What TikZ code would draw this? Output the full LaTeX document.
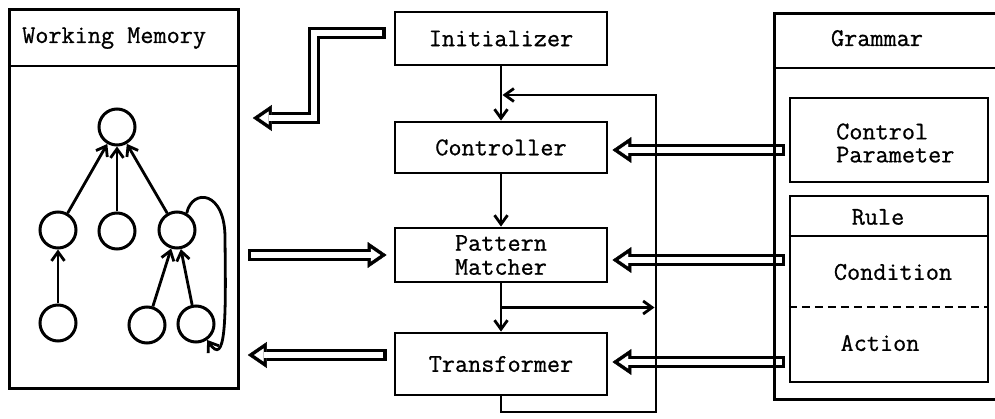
\documentclass[tikz,border=0pt]{standalone}
\usepackage{fontspec}
\newfontfamily\typewriter[FakeBold=0.8]{Latin Modern Mono}
\usetikzlibrary{arrows.meta,calc}
\pgfdeclarelayer{under}
\pgfsetlayers{under,main}

\tikzset{
  txt/.style={font=\typewriter\fontsize{25.5}{24}\selectfont, inner sep=0pt},
  box/.style={draw, line width=2.8pt, minimum width=212pt, inner sep=0pt,
              font=\typewriter\fontsize{25.5}{24}\selectfont},
  frame/.style={draw, line width=2.8pt, inner sep=0pt},
  rule line/.style={line width=2.5pt},
  wmnode/.style={circle, draw, line width=3pt, minimum size=36pt, inner sep=0pt},
  flow/.style={line width=2.8pt, -{Straight Barb[length=9pt,width=13pt]}},
  hollow outer/.style={line width=12pt,
     -{Triangle[length=19pt,width=26pt,line width=0.4pt]}},
  hollow inner/.style={white, line width=5.6pt, shorten <=3.2pt, shorten >=6.3pt,
     -{Triangle[length=9.5pt,width=13pt,line width=0.4pt]}},
}
% outlined (hollow) arrow: a wide black stroke with a narrower white one on top
\newcommand\hollowarrow[1]{\draw[hollow outer] #1; \draw[hollow inner] #1;}

\begin{document}
\begin{tikzpicture}[x=1pt,y=-1pt]
\useasboundingbox (0,0) rectangle (995,419);

% ---- Working memory ----
\node[frame, minimum width=229pt, minimum height=379pt, anchor=north west] (wm) at (8,8) {};
\draw[rule line] ($(wm.north west)+(0,58)$) -- ($(wm.north east)+(0,58)$);
\node[txt, anchor=base west] (wmtitle) at (22,43) {Working Memory};

\node[wmnode] (t)  at (117,127) {};
\node[wmnode] (m1) at (58,230) {};
\node[wmnode] (m2) at (117,231) {};
\node[wmnode] (m3) at (177,230) {};
\node[wmnode] (b1) at (58,323) {};
\node[wmnode] (b2) at (147,325) {};
\node[wmnode] (b3) at (196,324) {};

\draw[flow] (m1) -- (t);
\draw[flow] (m2) -- (t);
\draw[flow] (m3) -- (t);
\draw[flow] (b1) -- (m1);
\draw[flow] (b2) -- (m3);
\draw[flow] (b3) -- (m3);
\draw[flow] (m3.60) .. controls (192,188) and (226,190) .. (225,240)
            .. controls (226,320) and (226,368) .. (b3.-55);

% ---- Control modules ----
\node[box, minimum height=53pt] (init) at (501,38.5) {Initializer};
\node[box, minimum height=51pt] (ctl)  at (501,147.5) {Controller};
\node[box, minimum height=54pt, align=center] (pm) at (501,255) {Pattern\\Matcher};
\node[box, minimum height=62pt] (tr)   at (501,364) {Transformer};

% ---- Grammar ----
\node[frame, minimum width=240pt, minimum height=386pt, anchor=north west] (gram) at (773,12) {};
\draw[rule line] ($(gram.north west)+(0,56)$) -- ($(gram.north east)+(0,56)$);
\node[txt, anchor=base] (gtitle) at (877,46) {Grammar};

\node[frame, line width=2.5pt, minimum width=198pt, minimum height=84pt] (cp) at (889,140) {};
\node[txt, align=left, anchor=west, font=\typewriter\fontsize{25.5}{23}\selectfont]
     (cptext) at (836,143) {Control\\Parameter};

\node[frame, line width=2.5pt, minimum width=198pt, minimum height=186pt] (rule) at (889,289) {};
\draw[line width=2.2pt] ($(rule.north west)+(0,41)$) -- ($(rule.north east)+(0,41)$);
\draw[line width=2pt, dash pattern=on 8pt off 5pt]
     ($(rule.north west)+(0,112)$) -- ($(rule.north east)+(0,112)$);
\node[txt] (rulet) at (878,217) {Rule};
\node[txt] (cond)  at (893,272) {Condition};
\node[txt] (act)   at (880,343) {Action};

% ---- Data paths (hollow arrows) ----
\begin{pgfonlayer}{under}
\hollowarrow{($(init.west)+(-8,-5.5)$) -- (314,33) -- (314,118) -- ($(wm.east |- 0,118)+(13,0)$)}
\hollowarrow{($(wm.east |- pm.west)+(8,0)$) -- ($(pm.west)+(-7,0)$)}
\hollowarrow{($(tr.west)+(-7,-9)$) -- ($(wm.east |- 0,355)+(8,0)$)}
\hollowarrow{($(gram.west |- 0,150)+(12,0)$) -- ($(ctl.east |- 0,150)+(4,0)$)}
\hollowarrow{($(gram.west |- 0,260)+(12,0)$) -- ($(pm.east |- 0,260)+(4,0)$)}
\hollowarrow{($(gram.west |- 0,362)+(12,0)$) -- ($(tr.east |- 0,362)+(4,0)$)}
\end{pgfonlayer}

% ---- Control flow ----
\coordinate (fbtop) at (656,95);
\coordinate (fbbot) at (656,412);
\coordinate (br) at ($(pm.south)!0.5!(tr.north)$);
\draw[flow] (init) -- (ctl);
\draw[flow] (ctl) -- (pm);
\draw[flow] (pm) -- (tr);
\draw[flow, shorten >=1.5pt] (br) -- (fbtop |- br);
\draw[flow, shorten >=1.5pt] (tr.south) |- (fbbot) -- (fbtop) -- (init.south |- fbtop);

\end{tikzpicture}
\end{document}
